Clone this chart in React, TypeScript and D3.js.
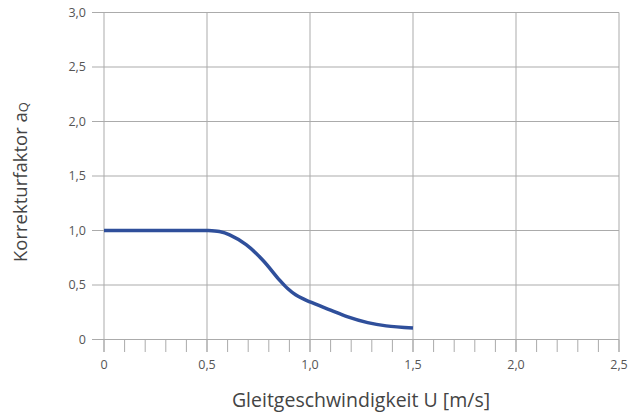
import React from "react";
import * as d3 from "d3";

const xValues = [0, 0.1, 0.2, 0.3, 0.4, 0.5, 0.56, 0.61, 0.69, 0.77, 0.85, 0.89, 0.93, 0.97, 1.0, 1.1, 1.18, 1.28, 1.37, 1.5];
const yValues = [1.0, 1.0, 1.0, 1.0, 1.0, 1.0, 0.99, 0.96, 0.87, 0.73, 0.55, 0.47, 0.41, 0.37, 0.345, 0.27, 0.21, 0.155, 0.125, 0.105];
const xMajorTicks = [0, 0.5, 1.0, 1.5, 2.0, 2.5];
const xMinorTicks = d3.range(0, 26).map((i) => i / 10);
const yTicks = [0, 0.5, 1.0, 1.5, 2.0, 2.5, 3.0];

const fmt = (v: number) => (v === 0 ? "0" : v.toFixed(1).replace(".", ","));

export default function App() {
  const W = 628, H = 414;
  const x = d3.scaleLinear().domain([0, 2.5]).range([104, 619]);
  const y = d3.scaleLinear().domain([0, 3]).range([339.5, 12.5]);
  const data = xValues.map((v, i) => [v, yValues[i]] as [number, number]);
  const line = d3.line<[number, number]>().x((d) => x(d[0])).y((d) => y(d[1])).curve(d3.curveCatmullRom.alpha(0.5));
  const grid = "#ababab";
  const font = "'Open Sans', sans-serif";
  return (
    <svg width={W} height={H} style={{ position: "absolute", left: 0, top: 0, background: "#fff" }}>
      {yTicks.map((t) => (
        <g key={"y" + t}>
          <line x1={92} x2={x(2.5)} y1={y(t)} y2={y(t)} stroke={grid} strokeWidth={1} />
          <text x={86} y={y(t)} dy="0.35em" textAnchor="end" fontSize={12.5} fill="#555" fontFamily={font}>{fmt(t)}</text>
        </g>
      ))}
      {xMajorTicks.map((t) => (
        <g key={"x" + t}>
          <line x1={x(t)} x2={x(t)} y1={y(3)} y2={352} stroke={grid} strokeWidth={1} />
          <text x={x(t)} y={365} dy="0.35em" textAnchor="middle" fontSize={12.5} fill="#555" fontFamily={font}>{fmt(t)}</text>
        </g>
      ))}
      {xMinorTicks.map((t) => (
        <line key={"m" + t} x1={x(t)} x2={x(t)} y1={y(0)} y2={352} stroke={grid} strokeWidth={1} />
      ))}
      <path d={line(data) || ""} fill="none" stroke="#2f4f9b" strokeWidth={3.5} />
      <text x={361} y={407} textAnchor="middle" fontSize={19.5} fill="#444" fontFamily={font}>Gleitgeschwindigkeit U [m/s]</text>
      <text transform="translate(27,182) rotate(-90)" textAnchor="middle" fontSize={18.5} fill="#444" fontFamily={font}>
        Korrekturfaktor a<tspan fontSize={13} dy={1}>Q</tspan>
      </text>
    </svg>
  );
}
